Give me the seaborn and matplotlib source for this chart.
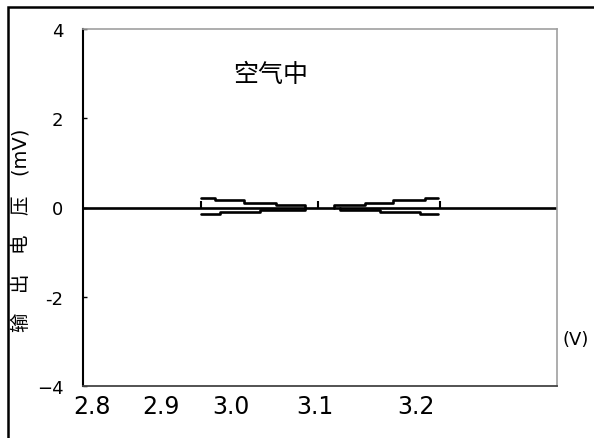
import matplotlib
matplotlib.use('Agg')
import matplotlib.pyplot as plt
import matplotlib.patches as patches
import pandas as pd
import seaborn as sns

sns.set_style("white")
plt.rcParams['font.family'] = ['DejaVu Sans', 'Noto Sans CJK SC']
plt.rcParams['axes.unicode_minus'] = False
plt.rcParams['text.color'] = 'black'

# ---------------------
# Data
# ---------------------
# left loop, upper and lower branch
v_left_up = [2.964, 2.981, 3.016, 3.054, 3.088]
out_left_up = [0.22, 0.157, 0.112, 0.067, 0.0]
v_left_lo = [2.964, 2.987, 3.035, 3.088]
out_left_lo = [-0.146, -0.09, -0.056, 0.0]

# right loop, upper and lower branch
v_right_up = [3.122, 3.160, 3.193, 3.231, 3.246]
out_right_up = [0.0, 0.067, 0.112, 0.157, 0.22]
v_right_lo = [3.130, 3.177, 3.225, 3.246]
out_right_lo = [0.0, -0.056, -0.09, -0.146]

# single spikes
v_spike = [2.964, 3.104, 3.249]
out_spike = [0.14, 0.14, 0.14]

# axis labels
xtick_labels = ['2.8', '2.9', '3.0', '3.1', '3.2']
xtick_at = [2.834, 2.917, 3.0, 3.1, 3.220]
ytick_vals = [-4, -2, 0, 2, 4]
ytick_labels = ['\u22124', '-2', '0', '2', '4']

# ---------------------
# Plot
# ---------------------
fig = plt.figure(figsize=(5.94, 4.39), dpi=100)
ax = fig.add_axes([83 / 594, 1 - 387 / 439, 474 / 594, 357 / 439])

ax.axhline(0, color='black', lw=1.9, zorder=1)

for xs, ys, style in [(v_left_up, out_left_up, 'steps-post'),
                      (v_left_lo, out_left_lo, 'steps-post'),
                      (v_right_up, out_right_up, 'steps-pre'),
                      (v_right_lo, out_right_lo, 'steps-pre')]:
    df = pd.DataFrame({'v': xs, 'out': ys})
    sns.lineplot(data=df, x='v', y='out', color='black', lw=1.9,
                 drawstyle=style, estimator=None, sort=False, ax=ax)

ax.vlines(v_spike, 0, out_spike, color='black', lw=1.5)

ax.set_xlim(2.8238, 3.388)
ax.set_ylim(-4, 4)
ax.set_xticks(xtick_at)
ax.set_xticklabels(xtick_labels)
ax.set_yticks(ytick_vals)
ax.set_yticklabels(ytick_labels)
ax.tick_params(axis='x', length=0, pad=6, labelsize=17, labelcolor='black')
ax.tick_params(axis='y', direction='in', length=3, width=1, pad=14,
               labelsize=13, left=True, color='black', labelcolor='black')
ax.set_xlabel('')
ax.set_ylabel('')

ax.spines['left'].set_color('black')
ax.spines['left'].set_linewidth(1.5)
ax.spines['bottom'].set_color('#444444')
ax.spines['bottom'].set_linewidth(1.3)
for side in ['top', 'right']:
    ax.spines[side].set_color('#a0a0a0')
    ax.spines[side].set_linewidth(1.2)

ax.text(0.395, 0.875, '空气中', transform=ax.transAxes, fontsize=18,
        ha='center', va='center')

fig.text(22 / 594, 1 - 230 / 439, '输\u3000出\u3000电\u3000压\u3000(mV)',
         rotation=90, fontsize=14, ha='center', va='center')
fig.text(576 / 594, 1 - 340 / 439, '(V)', fontsize=13, ha='center', va='center')

# outer frame
fig.patches.append(patches.Rectangle((7.5 / 594, -0.1), 1.2, 1.1 - 7.5 / 439,
                                     transform=fig.transFigure, fill=False,
                                     edgecolor='black', lw=1.8))

fig.savefig('out.png', dpi=100)
